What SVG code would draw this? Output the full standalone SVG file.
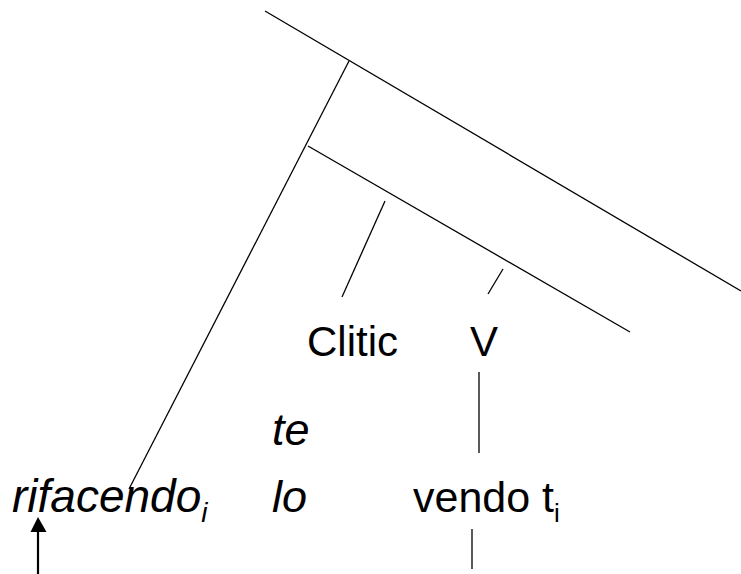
<svg xmlns="http://www.w3.org/2000/svg" width="741" height="574" viewBox="0 0 741 574">
<defs>
<style>
.ln{stroke:#000;stroke-width:1.3;fill:none}
.t{font-family:"Liberation Sans",Arial,sans-serif;fill:#000}
.it{font-style:italic}
</style>
</defs>
<rect width="741" height="574" fill="#fff"/>
<g id="connectors">
<line class="ln" x1="265" y1="11" x2="741" y2="291"/>
<line class="ln" x1="349" y1="61" x2="129" y2="489"/>
<line class="ln" x1="308" y1="146" x2="630" y2="332"/>
<line class="ln" x1="385" y1="201" x2="342" y2="297"/>
<line class="ln" x1="503" y1="269" x2="488" y2="294"/>
<line class="ln" x1="479" y1="372" x2="479" y2="453"/>
<line class="ln" x1="472" y1="529" x2="472" y2="569"/>
<line stroke="#000" stroke-width="2.2" x1="38" y1="530" x2="38" y2="574"/>
<polygon points="38,517 30.5,532 46.5,532" fill="#000"/>
</g>
<g id="clitic"><text class="t" x="307" y="356" font-size="42">Clitic</text></g>
<g id="v"><text class="t" x="470" y="356" font-size="42">V</text></g>
<g id="te"><text class="t it" x="272" y="445" font-size="45">te</text></g>
<g id="lo"><text class="t it" x="272" y="512" font-size="45">lo</text></g>
<g id="rifacendo"><text class="t it" x="12" y="512" font-size="46">rifacendo<tspan font-size="28" dy="10">i</tspan></text></g>
<g id="vendo"><text class="t" x="413" y="512" font-size="43">vendo t<tspan font-size="26" dy="10">i</tspan></text></g>
</svg>
